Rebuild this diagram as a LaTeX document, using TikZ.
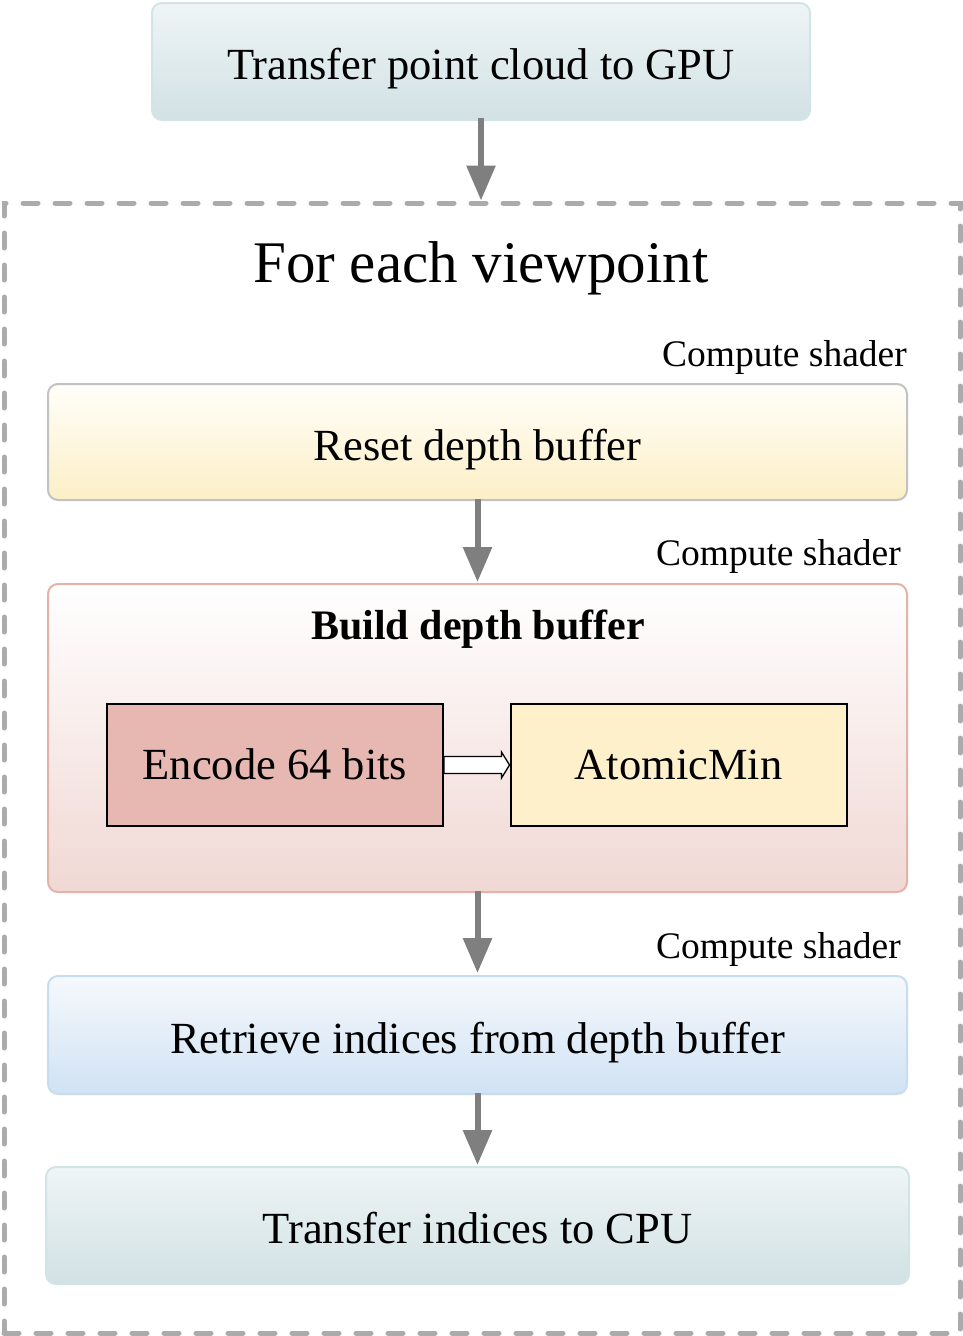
\documentclass[tikz,border=0pt]{standalone}
\usepackage{fontspec}
\setmainfont{Liberation Serif}
\usetikzlibrary{arrows.meta,calc}
\definecolor{flowgray}{HTML}{7F7F7F}
\definecolor{dashgray}{HTML}{ABABAB}
\definecolor{tealtop}{HTML}{EEF5F6}
\definecolor{tealbot}{HTML}{D2E1E4}
\definecolor{tealline}{HTML}{D3E4E7}
\definecolor{yeltop}{HTML}{FFFEFA}
\definecolor{yelbot}{HTML}{FCEFC6}
\definecolor{yelline}{HTML}{C2C2C2}
\definecolor{redtop}{HTML}{FFFFFF}
\definecolor{redbot}{HTML}{F0D8D4}
\definecolor{redline}{HTML}{E3B3AA}
\definecolor{bluetop}{HTML}{F6F9FC}
\definecolor{bluebot}{HTML}{D0E2F4}
\definecolor{blueline}{HTML}{C8DCF0}
\definecolor{encfill}{HTML}{E6B8B1}
\definecolor{amfill}{HTML}{FFF0CC}
\begin{document}
\begin{tikzpicture}[x=1pt,y=-1pt,
  stage/.style={rounded corners=10pt, line width=2pt, inner sep=0pt,
     text height=36pt, text depth=0pt,
     font=\fontsize{44.5}{50}\selectfont},
  teal/.style={stage, draw=tealline, top color=tealtop, bottom color=tealbot},
  yel/.style={stage, draw=yelline, top color=yeltop, bottom color=yelbot},
  red/.style={stage, draw=redline, top color=redtop, bottom color=redbot},
  blue/.style={stage, draw=blueline, top color=bluetop, bottom color=bluebot},
  inner/.style={draw=black, line width=2pt, minimum width=336pt, minimum height=122pt,
     inner sep=0pt, text height=28pt, text depth=0pt,
     font=\fontsize{44.5}{50}\selectfont},
  flow/.style={draw=flowgray, line width=6pt, -{Triangle[width=28pt,length=35pt]}},
  shaderlabel/.style={anchor=base east, font=\fontsize{37.5}{42}\selectfont, inner sep=0pt},
]
\useasboundingbox (0,0) rectangle (963,1336);
% outer dashed frame
\node[draw=dashgray, line width=5pt, dash pattern=on 15pt off 17pt, line cap=round,
      minimum width=956pt, minimum height=1130pt, inner sep=0pt] (frame) at (482,768) {};
% top box
\node[teal, minimum width=658pt, minimum height=117pt] (gpu) at (481,61.5) {Transfer point cloud to GPU};
\node[font=\fontsize{59}{66}\selectfont, anchor=base, inner sep=0pt] (title) at (481,282) {For each viewpoint};
% reset
\node[shaderlabel] (cs1) at (907,366) {Compute shader};
\node[yel, minimum width=859pt, minimum height=116pt] (reset) at (477.5,442) {Reset depth buffer};
% build
\node[shaderlabel] (cs2) at (901,565) {Compute shader};
\node[red, minimum width=859pt, minimum height=308pt] (build) at (477.5,738) {};
\node[font=\fontsize{42}{48}\selectfont\bfseries, anchor=base, inner sep=0pt] (buildt) at (478,639) {Build depth buffer};
\node[inner, fill=encfill] (enc) at (275,765) {Encode 64 bits};
\node[inner, fill=amfill] (am) at (678.5,765) {AtomicMin};
\draw[black, line width=1.3pt, fill=white, line join=miter]
  ($(enc.east)+(0,-8.5)$) -- ($(am.west)+(-8,-8.5)$) -- ($(am.west)+(-8,-13)$) -- (am.west)
  -- ($(am.west)+(-8,13)$) -- ($(am.west)+(-8,8.5)$) -- ($(enc.east)+(0,8.5)$) -- cycle;
% retrieve
\node[shaderlabel] (cs3) at (901,958) {Compute shader};
\node[blue, minimum width=859pt, minimum height=118pt] (retr) at (477.5,1035) {Retrieve indices from depth buffer};
% cpu
\node[teal, minimum width=863pt, minimum height=117pt] (cpu) at (477.5,1225.5) {Transfer indices to CPU};
% flows
\draw[flow] ($(gpu.south)+(0,-3)$) -- (gpu.south |- frame.north);
\draw[flow] ($(reset.south)+(0,-2)$) -- ($(build.north)+(0,-1)$);
\draw[flow] ($(build.south)+(0,-2)$) -- ($(retr.north)+(0,-2)$);
\draw[flow] ($(retr.south)+(0,-2)$) -- ($(cpu.north)+(0,-1)$);
\end{tikzpicture}
\end{document}
